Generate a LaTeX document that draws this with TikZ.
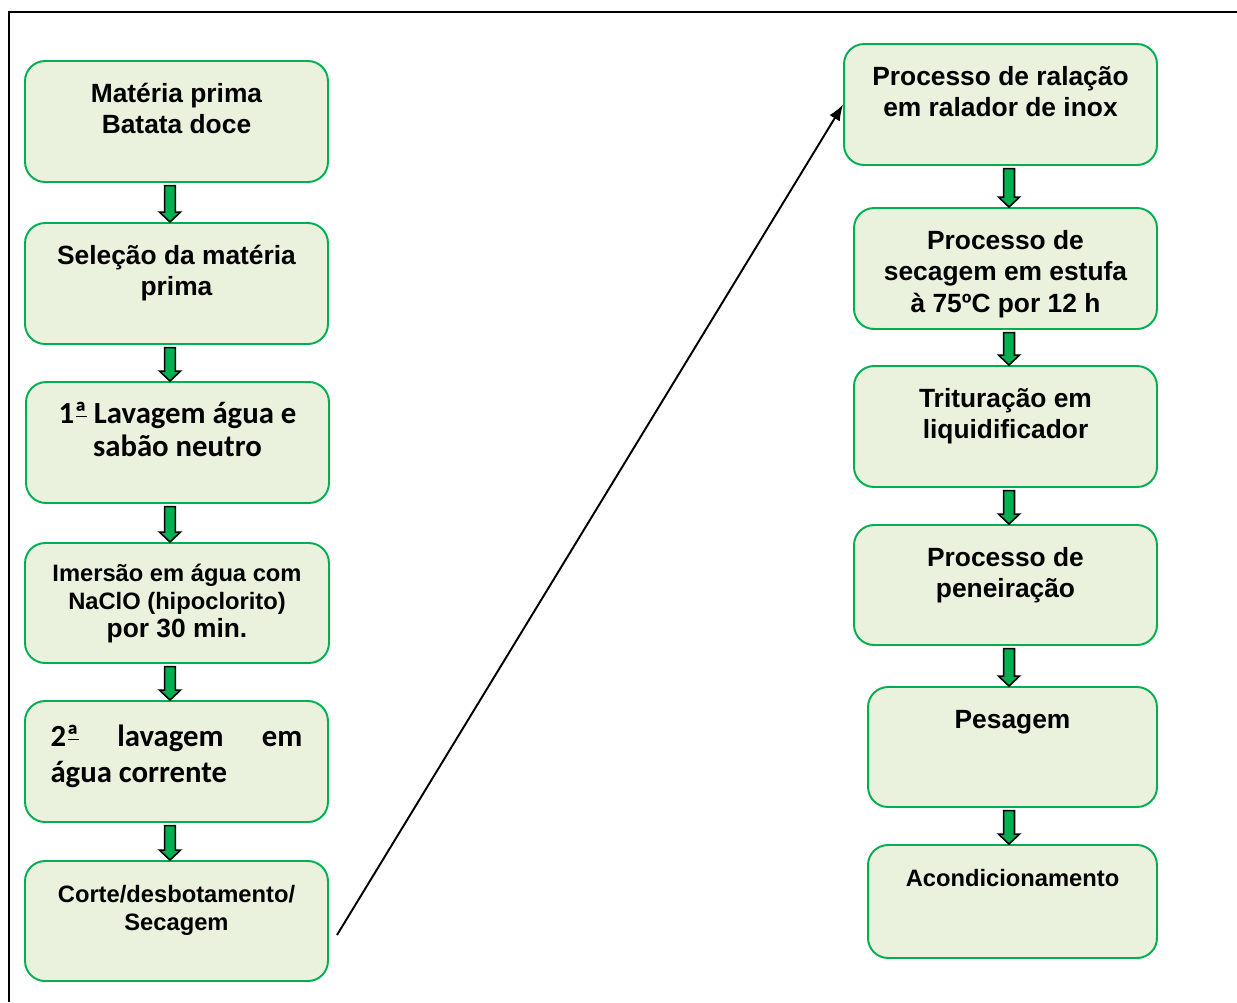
\documentclass[tikz,border=0pt]{standalone}
\usepackage{fontspec}
\setmainfont{Liberation Sans}
\newfontfamily\calfont{Carlito}
\usetikzlibrary{positioning,arrows.meta,calc}

\definecolor{boxfill}{HTML}{EAF1DD}
\definecolor{boxline}{HTML}{00B050}
\definecolor{flowgreen}{HTML}{00B050}

\newcommand{\bigtxt}{\fontsize{15}{18}\selectfont}
\newcommand{\smalltxt}{\fontsize{13.5}{16}\selectfont}
% underlined ordinal a
\newcommand{\ordbar}{ª\llap{\rule[0.42ex]{0.36em}{0.7pt}\hspace{0.01em}}}
% text hanging from the top of a step box
\newcommand{\toptext}[4][23.5pt]{\parbox[c][#3][t]{#2}{\centering\rule{0pt}{#1}#4\par}}
% green block arrow from one step down to the next
\newcommand{\flowdown}[3]{%
  \draw[flowarrow] let \p1=(#2.south), \p2=(#3.north), \p3=(#1,0) in
    (\x3-3.1pt,\y1-1.5pt) -- (\x3+3.1pt,\y1-1.5pt) -- (\x3+3.1pt,\y2+5.7pt)
    -- (\x3+6pt,\y2+5.7pt) -- (\x3,\y2) -- (\x3-6pt,\y2+5.7pt)
    -- (\x3-3.1pt,\y2+5.7pt) -- cycle;}

\begin{document}
\begin{tikzpicture}[x=0.02cm, y=-0.02cm,
    stepbox/.style={draw=boxline, fill=boxfill, line width=1.1pt, rounded corners=0.4cm, inner sep=0pt, font=\bfseries\bigtxt},
    flowarrow/.style={draw=black, fill=flowgreen, line width=0.9pt},
    link/.style={-{Latex[length=3.2mm,width=2.4mm]}, line width=1.1pt}
  ]
  \useasboundingbox (0,0) rectangle (1237,1002);
  % frame
  \draw[line width=1.1pt] (9,1002) -- (9,12) -- (1237,12);

  % left column
  \node[stepbox] (l1) at (176.5,121.5) {\toptext{6.06cm}{2.42cm}{Matéria prima\\Batata doce}};
  \node[stepbox] (l2) at (176.5,283.5) {\toptext{6.06cm}{2.42cm}{Seleção da matéria\\prima}};
  \node[stepbox] (l3) at (177.5,442.5) {\toptext{6.06cm}{2.42cm}{\calfont\fontsize{17.5}{18.7}\selectfont 1\ordbar{} Lavagem água e\\sabão neutro}};
  \node[stepbox] (l4) at (177,603) {\toptext[22pt]{6.08cm}{2.4cm}{\smalltxt Imersão em água com\\NaClO (hipoclorito)\\{\fontsize{15}{16}\selectfont por 30 min.}}};
  \node[stepbox] (l5) at (176.5,761.5) {\toptext[26pt]{6.06cm}{2.42cm}{\calfont\fontsize{17.5}{20.4}\selectfont
      \makebox[5.04cm][s]{2\ordbar\hfill lavagem\hfill em}\\\makebox[5.04cm][l]{água corrente}}};
  \node[stepbox] (l6) at (176.5,921) {\toptext{6.06cm}{2.4cm}{\smalltxt Corte/desbotamento/\\Secagem}};

  % right column
  \node[stepbox] (r1) at (1000.5,104.5) {\toptext{6.26cm}{2.42cm}{Processo de ralação\\em ralador de inox}};
  \node[stepbox] (r2) at (1005.5,268.5) {\toptext{6.06cm}{2.42cm}{Processo de\\secagem em estufa\\à 75ºC por 12 h}};
  \node[stepbox] (r3) at (1005.5,426.5) {\toptext{6.06cm}{2.42cm}{Trituração em\\liquidificador}};
  \node[stepbox] (r4) at (1005.5,585) {\toptext{6.06cm}{2.4cm}{Processo de\\peneiração}};
  \node[stepbox] (r5) at (1012.5,747) {\toptext{5.78cm}{2.4cm}{Pesagem}};
  \node[stepbox] (r6) at (1012.5,901.5) {\toptext{5.78cm}{2.26cm}{\smalltxt Acondicionamento}};

  % block arrows
  \flowdown{170}{l1}{l2}
  \flowdown{170}{l2}{l3}
  \flowdown{170}{l3}{l4}
  \flowdown{170}{l4}{l5}
  \flowdown{170}{l5}{l6}
  \flowdown{1009}{r1}{r2}
  \flowdown{1009}{r2}{r3}
  \flowdown{1009}{r3}{r4}
  \flowdown{1009}{r4}{r5}
  \flowdown{1009}{r5}{r6}

  % jump to the second column
  \coordinate (cutend) at (337,935);
  \draw[link] (cutend) -- (r1.west);
\end{tikzpicture}
\end{document}
